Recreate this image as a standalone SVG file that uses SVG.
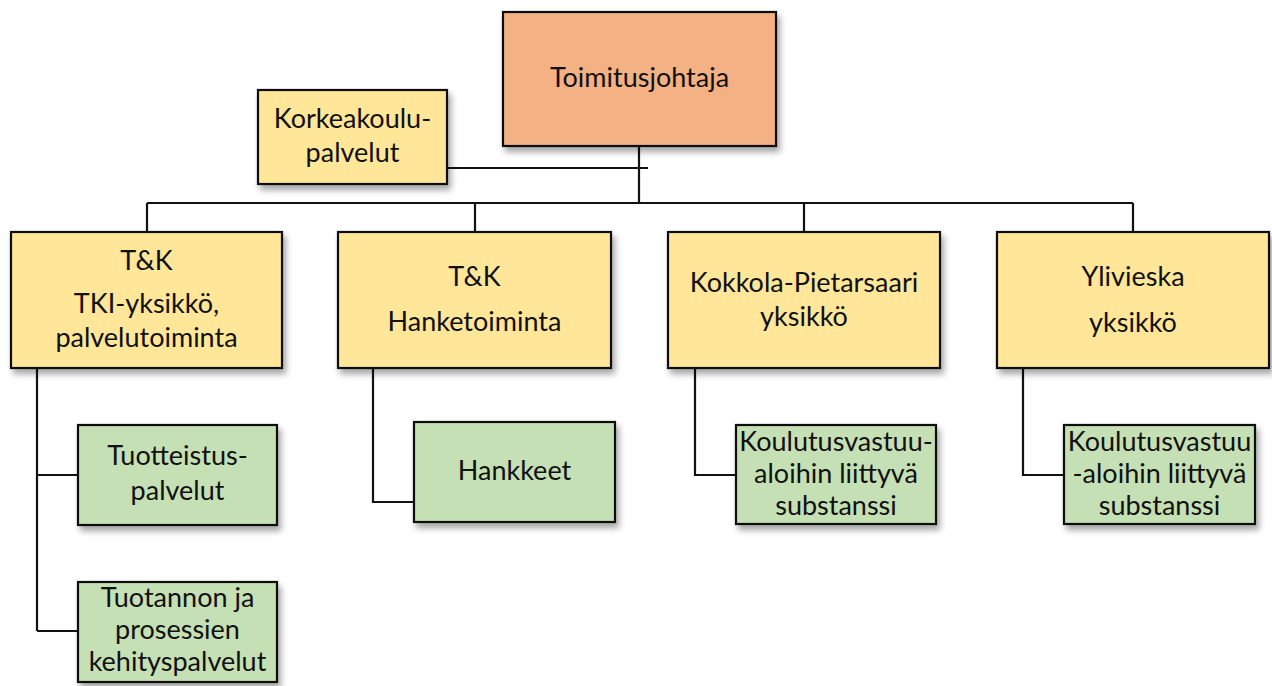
<svg xmlns="http://www.w3.org/2000/svg" width="1272" height="686" viewBox="0 0 1272 686">
<defs>
<filter id="sh" x="-10%" y="-10%" width="125%" height="130%">
<feDropShadow dx="3" dy="5" stdDeviation="3" flood-color="#000" flood-opacity="0.35"/>
</filter>
<style>
.box{stroke:#111;stroke-width:2.2;filter:url(#sh)}
.o{fill:#F4B183}
.y{fill:#FFE699}
.g{fill:#C5E0B4}
.t{font-family:Lato,"Open Sans","Liberation Sans",sans-serif;font-size:27px;fill:#111;text-anchor:middle}
.c{fill:none;stroke:#111;stroke-width:2.2}
</style>
</defs>
<rect width="1272" height="686" fill="#fff"/>
<g id="connectors">
<path class="c" d="M639 146V203M447 168H648M147 203H1133M147 203V232M475 203V232M804 203V232M1133 203V232"/>
<path class="c" d="M37 368V631M37 475H78M37 631H78"/>
<path class="c" d="M373 368V502H414"/>
<path class="c" d="M695 368V475H736"/>
<path class="c" d="M1023 368V475H1064"/>
</g>
<g id="toimitusjohtaja">
<rect class="box o" x="503" y="12" width="273" height="134"/>
<text class="t" x="639.5" y="87">Toimitusjohtaja</text>
</g>
<g id="korkeakoulupalvelut">
<rect class="box y" x="258" y="90" width="189" height="94"/>
<text class="t" x="352.5" y="128">Korkeakoulu-</text>
<text class="t" x="352.5" y="162">palvelut</text>
</g>
<g id="tk-tki">
<rect class="box y" x="11" y="232" width="271" height="136"/>
<text class="t" x="146.5" y="270">T&amp;K</text>
<text class="t" x="146.5" y="313">TKI-yksikkö,</text>
<text class="t" x="146.5" y="347">palvelutoiminta</text>
</g>
<g id="tk-hanke">
<rect class="box y" x="338" y="232" width="273" height="136"/>
<text class="t" x="474.5" y="286">T&amp;K</text>
<text class="t" x="474.5" y="331">Hanketoiminta</text>
</g>
<g id="kokkola">
<rect class="box y" x="668" y="232" width="272" height="136"/>
<text class="t" x="804" y="292">Kokkola-Pietarsaari</text>
<text class="t" x="804" y="326">yksikkö</text>
</g>
<g id="ylivieska">
<rect class="box y" x="997" y="232" width="272" height="136"/>
<text class="t" x="1133" y="286">Ylivieska</text>
<text class="t" x="1133" y="332">yksikkö</text>
</g>
<g id="tuotteistus">
<rect class="box g" x="78" y="425" width="199" height="100"/>
<text class="t" x="177.5" y="465">Tuotteistus-</text>
<text class="t" x="177.5" y="500">palvelut</text>
</g>
<g id="tuotannon">
<rect class="box g" x="78" y="582" width="199" height="100"/>
<text class="t" x="177.5" y="607">Tuotannon ja</text>
<text class="t" x="177.5" y="639">prosessien</text>
<text class="t" x="177.5" y="671">kehityspalvelut</text>
</g>
<g id="hankkeet">
<rect class="box g" x="414" y="422" width="201" height="100"/>
<text class="t" x="514.5" y="480">Hankkeet</text>
</g>
<g id="kokkola-substanssi">
<rect class="box g" x="736" y="425" width="200" height="99"/>
<text class="t" x="836" y="451">Koulutusvastuu-</text>
<text class="t" x="836" y="483">aloihin liittyvä</text>
<text class="t" x="836" y="515">substanssi</text>
</g>
<g id="ylivieska-substanssi">
<rect class="box g" x="1064" y="425" width="191" height="99"/>
<text class="t" x="1159.5" y="451">Koulutusvastuu</text>
<text class="t" x="1159.5" y="483">-aloihin liittyvä</text>
<text class="t" x="1159.5" y="515">substanssi</text>
</g>
</svg>
